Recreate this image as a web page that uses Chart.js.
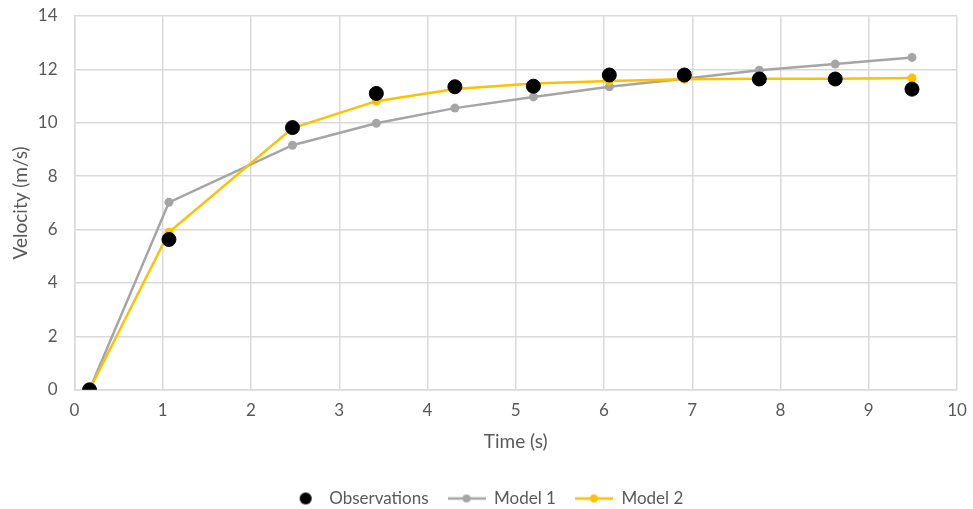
<!DOCTYPE html>
<html>
<head>
<meta charset="utf-8">
<script src="https://cdn.jsdelivr.net/npm/chart.js@4"></script>
<style>
	html, body { margin: 0; padding: 0; background: #fff; }
	#wrap { width: 973px; height: 509px; }
</style>
</head>
<body>
<div id="wrap"><canvas id="chartVelocity"></canvas></div>
<script>
// Données
const times = [0.17, 1.07, 2.47, 3.42, 4.31, 5.2, 6.06, 6.91, 7.76, 8.62, 9.49];
const observations = [0, 5.63, 9.82, 11.1, 11.35, 11.37, 11.79, 11.79, 11.64, 11.64, 11.26];
const model1 = [0, 7.02, 9.16, 9.98, 10.55, 10.97, 11.35, 11.65, 11.97, 12.2, 12.45];
const model2 = [0, 5.9, 9.8, 10.81, 11.27, 11.47, 11.57, 11.63, 11.65, 11.65, 11.68];
const xTicks = [0, 1, 2, 3, 4, 5, 6, 7, 8, 9, 10];
const yTicks = [0, 2, 4, 6, 8, 10, 12, 14];

const textColor = '#595959';
const gridColor = '#d9d9d9';
const fontFamily = 'Lato, "Open Sans", sans-serif';

function toPoints(values) {
	return times.map((t, i) => ({ x: t, y: values[i] }));
}

// petites images pour la légende (ligne + point)
const ICON_W = 38;
function legendIcon(color, withLine, dotX, r) {
	const c = document.createElement('canvas');
	c.width = ICON_W; c.height = 14;
	const ctx = c.getContext('2d');
	if (withLine) {
		ctx.strokeStyle = color;
		ctx.lineWidth = 2.5;
		ctx.beginPath(); ctx.moveTo(0, 7); ctx.lineTo(ICON_W, 7); ctx.stroke();
	}
	ctx.fillStyle = color;
	ctx.beginPath(); ctx.arc(dotX, 7, r, 0, Math.PI * 2); ctx.fill();
	return c;
}
const icons = [
	legendIcon('#000000', false, 23, 6),
	legendIcon('#a5a5a5', true, 19, 4),
	legendIcon('#ffc000', true, 19, 4)
];

new Chart(document.getElementById('chartVelocity'), {
	type: 'scatter',
	data: {
		datasets: [
			{
				label: 'Observations',
				data: toPoints(observations),
				backgroundColor: '#000000',
				borderColor: '#000000',
				pointRadius: 7,
				pointHoverRadius: 7,
				showLine: false,
				order: 0
			},
			{
				label: 'Model 1',
				data: toPoints(model1),
				backgroundColor: '#a5a5a5',
				borderColor: '#a5a5a5',
				borderWidth: 2.5,
				pointRadius: 4.5,
				pointBorderWidth: 0,
				showLine: true,
				order: 2
			},
			{
				label: 'Model 2',
				data: toPoints(model2),
				backgroundColor: '#ffc000',
				borderColor: '#ffc000',
				borderWidth: 2.5,
				pointRadius: 4.5,
				pointBorderWidth: 0,
				showLine: true,
				order: 1
			}
		]
	},
	options: {
		responsive: true,
		maintainAspectRatio: false,
		animation: false,
		layout: { padding: { top: 16, right: 16, left: 9, bottom: -8 } },
		scales: {
			x: {
				type: 'linear',
				min: 0, max: 10,
				afterBuildTicks: axis => { axis.ticks = xTicks.map(v => ({ value: v })); },
				afterFit: axis => { axis.paddingLeft = 0; axis.paddingRight = 0; },
				grid: { color: gridColor, lineWidth: 1.5, drawTicks: false },
				border: { color: gridColor, width: 1.5 },
				ticks: { color: textColor, font: { family: fontFamily, size: 17 }, padding: 11 },
				title: { display: true, text: 'Time (s)', color: textColor, font: { family: fontFamily, size: 19 }, padding: { top: -2, bottom: 18 } }
			},
			y: {
				min: 0, max: 14,
				afterBuildTicks: axis => { axis.ticks = yTicks.map(v => ({ value: v })); },
				afterFit: axis => { axis.paddingTop = 0; axis.paddingBottom = 0; },
				grid: { color: gridColor, lineWidth: 1.5, drawTicks: false },
				border: { color: gridColor, width: 1.5 },
				ticks: { color: textColor, font: { family: fontFamily, size: 17 }, padding: 17 },
				title: { display: true, text: 'Velocity (m/s)', color: textColor, font: { family: fontFamily, size: 19 }, padding: { top: 0, bottom: -11 } }
			}
		},
		plugins: {
			tooltip: { enabled: false },
			legend: {
				position: 'bottom',
				labels: {
					color: textColor,
					font: { family: fontFamily, size: 17 },
					usePointStyle: true,
					pointStyleWidth: ICON_W,
					padding: 19,
					sort: (a, b) => a.datasetIndex - b.datasetIndex,
					generateLabels: chart => {
						const items = Chart.defaults.plugins.legend.labels.generateLabels(chart);
						items.forEach(it => { it.pointStyle = icons[it.datasetIndex]; });
						return items;
					}
				}
			}
		}
	}
});
</script>
</body>
</html>
